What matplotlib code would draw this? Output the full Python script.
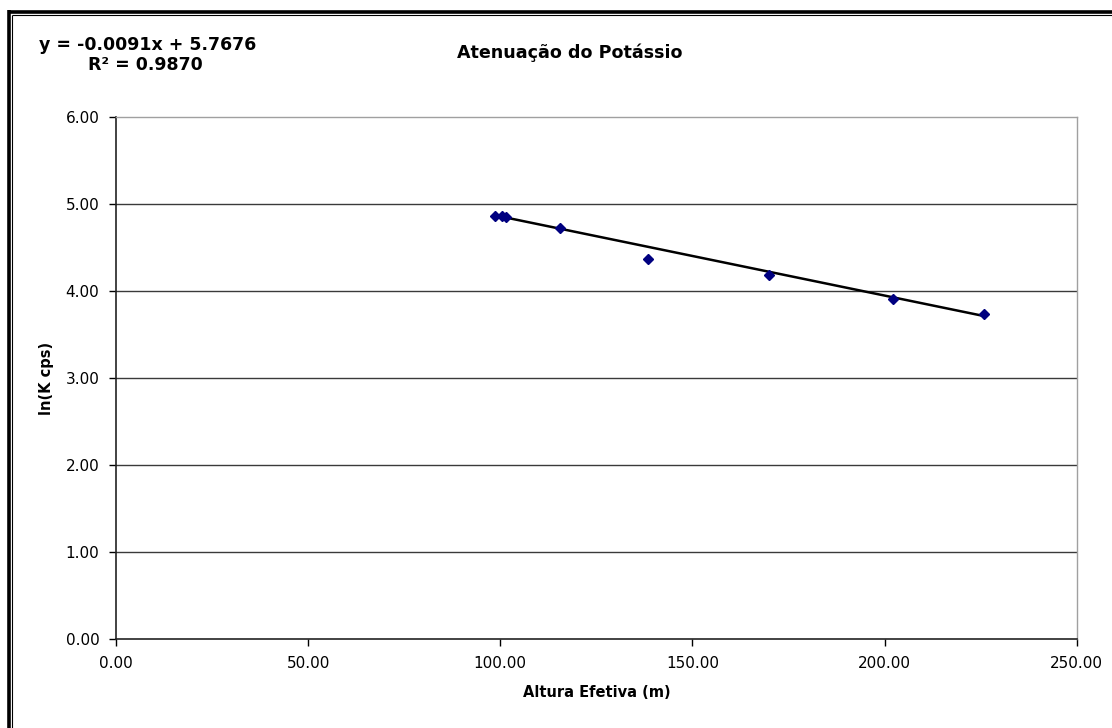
import matplotlib
matplotlib.use("Agg")
import matplotlib.pyplot as plt
from matplotlib.lines import Line2D
import numpy as np

plt.rcParams['font.family'] = ['DejaVu Sans']

# Measured effective altitude (m) and log of potassium count rate
altura = [98.7, 100.4, 101.6, 115.6, 138.4, 170.0, 202.1, 225.9]
ln_k = [4.86, 4.86, 4.85, 4.72, 4.37, 4.18, 3.91, 3.74]

# Linear trendline coefficients
slope = -0.0091
intercept = 5.7676
r2 = 0.9870

x_ticks = [0, 50, 100, 150, 200, 250]
y_ticks = [0, 1, 2, 3, 4, 5, 6]

W, H = 1112, 728
fig = plt.figure(figsize=(W / 100, H / 100), dpi=100)
ax = fig.add_axes([116 / W, 1 - 639 / H, (1076.7 - 116) / W, (639 - 117) / H])

# gridlines
for yv in y_ticks[1:-1]:
    ax.axhline(yv, color='#3a3a3a', lw=1.0, zorder=1)

# trendline across the data range
xs = np.array([min(altura), max(altura)])
ax.plot(xs, slope * xs + intercept, color='black', lw=1.8, zorder=2)

ax.plot(altura, ln_k, linestyle='none', marker='D', ms=5.5,
        color='#000080', markeredgecolor='#000080', zorder=3)

ax.set_xlim(0, 250)
ax.set_ylim(0, 6)
ax.set_xticks(x_ticks)
ax.set_yticks(y_ticks)
ax.set_xticklabels([f"{v:.2f}" for v in x_ticks])
ax.set_yticklabels([f"{v:.2f}" for v in y_ticks])
ax.tick_params(axis='both', direction='out', length=5, width=1.0,
               labelsize=11, colors='black')
ax.tick_params(axis='x', pad=7)
ax.tick_params(axis='y', pad=7)

for side in ('top', 'right'):
    ax.spines[side].set_color('#a0a0a0')
    ax.spines[side].set_linewidth(1.0)
for side in ('left', 'bottom'):
    ax.spines[side].set_color('#222222')
    ax.spines[side].set_linewidth(1.2)

ax.set_xlabel('Altura Efetiva (m)', fontsize=10.5, fontweight='bold', labelpad=10)
ax.set_ylabel('ln(K cps)', fontsize=10.5, fontweight='bold', labelpad=8)

fig.text(570 / W, 1 - 58 / H, 'Atenuação do Potássio', fontsize=12.6,
         fontweight='bold', ha='center', va='baseline')
fig.text(148 / W, 1 - 50 / H, f'y = {slope:.4f}x + {intercept:.4f}', fontsize=12.5,
         fontweight='bold', ha='center', va='baseline')
fig.text(145 / W, 1 - 70 / H, f'R² = {r2:.4f}', fontsize=12.5,
         fontweight='bold', ha='center', va='baseline')

# double border of the chart frame
def px_line(x0, y0, x1, y1, lw):
    fig.add_artist(Line2D([x0 / W, x1 / W], [1 - y0 / H, 1 - y1 / H],
                          transform=fig.transFigure, color='black', lw=lw,
                          solid_capstyle='butt'))

px_line(8.5, 11.5, W, 11.5, 2.6)
px_line(8.5, 10, 8.5, H, 2.6)
px_line(11.5, 14.5, W, 14.5, 0.8)
px_line(11.5, 14.5, 11.5, H, 0.8)

fig.savefig('out.png', dpi=100)
